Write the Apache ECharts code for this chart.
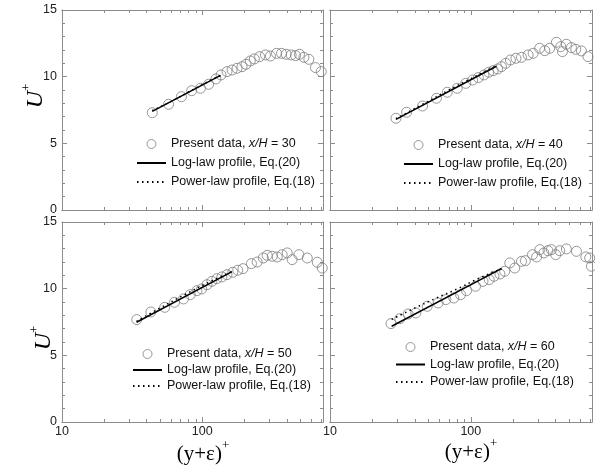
<!DOCTYPE html>
<html>
<head>
<meta charset="utf-8">
<script src="https://cdn.jsdelivr.net/npm/echarts@6/dist/echarts.min.js"></script>
<style>
  html, body { margin: 0; background: #fff; }
  #box { width: 595px; height: 470px; }
</style>
</head>
<body>
<div id="box"></div>
<script>
// x/H stations of the four panels
const stations = ['30', '40', '50', '60'];

// measured profiles [(y+eps)+, U+]
const present30 = [[44, 7.3], [57.5, 7.93], [71, 8.5], [84, 8.95], [97, 9.13], [111, 9.43], [125, 9.83], [136, 10.13], [150, 10.38], [163, 10.5], [177, 10.63], [192, 10.75], [205, 10.93], [220, 11.18], [235, 11.33], [256, 11.5], [282, 11.63], [306, 11.55], [338, 11.75], [367, 11.75], [396, 11.68], [430, 11.63], [462, 11.58], [493, 11.68], [530, 11.45], [575, 11.3], [641, 10.68], [704, 10.38]];
const present40 = [[29.4, 6.88], [35, 7.33], [45.4, 7.8], [57, 8.38], [68, 8.83], [80, 9.13], [92, 9.5], [103, 9.75], [113, 9.93], [124, 10.13], [134, 10.33], [144, 10.45], [155, 10.58], [165, 10.75], [177, 11.0], [191, 11.25], [209, 11.38], [229, 11.45], [255, 11.63], [277, 11.75], [308, 12.13], [335, 11.95], [363, 12.13], [405, 12.58], [435, 12.25], [447, 11.88], [477, 12.43], [518, 12.18], [556, 12.05], [610, 11.93], [679, 11.5]];
const present50 = [[34.1, 7.68], [43, 8.25], [54, 8.6], [63.4, 8.98], [73.5, 9.23], [82, 9.55], [91.6, 9.85], [99, 9.98], [108, 10.3], [117, 10.55], [127, 10.75], [138, 10.88], [150, 11.05], [165, 11.23], [179, 11.38], [195, 11.5], [224, 11.88], [246, 12.0], [272, 12.3], [290, 12.5], [315, 12.43], [342, 12.38], [371, 12.55], [403, 12.68], [437, 12.18], [488, 12.55], [560, 12.3], [660, 11.98], [716, 11.55]];
const present60 = [[27.1, 7.38], [31.3, 7.75], [35.9, 8.1], [40.7, 8.18], [49, 8.68], [58.6, 8.93], [66.5, 9.18], [75.7, 9.3], [84.5, 9.55], [93.2, 9.85], [108, 10.18], [122, 10.55], [135, 10.68], [146, 10.93], [161, 11.1], [174, 11.3], [189, 11.93], [205, 11.55], [229, 12.05], [244, 12.1], [274, 12.55], [293, 12.38], [309, 12.93], [330, 12.68], [353, 12.85], [373, 12.93], [401, 12.55], [428, 12.85], [477, 12.98], [562, 12.8], [655, 12.38], [698, 12.3], [718, 11.68]];

// log-law profile, Eq.(20)
const logLaw30 = [[44, 7.4], [135, 10.1]];
const logLaw40 = [[29.4, 6.8], [152, 10.78]];
const logLaw50 = [[34, 7.48], [163, 11.28]];
const logLaw60 = [[27.4, 7.18], [165, 11.5]];

// power-law profile, Eq.(18)
const powerLaw30 = [[44, 7.45], [60, 8.15], [80, 8.85], [100, 9.4], [135, 10.1]];
const powerLaw40 = [[29.4, 6.85], [45, 7.9], [70, 9.0], [100, 9.85], [152, 10.8]];
const powerLaw50 = [[34, 7.55], [50, 8.55], [75, 9.55], [110, 10.45], [163, 11.3]];
const powerLaw60 = [[27.4, 7.7], [38, 8.43], [57, 9.3], [80, 9.98], [110, 10.7], [165, 11.5]];

const xMajorTicks = [10, 100];
const xMinorTicks = [20, 30, 40, 50, 60, 70, 80, 90, 200, 300, 400, 500, 600, 700];

const presentData = [present30, present40, present50, present60];
const logData = [logLaw30, logLaw40, logLaw50, logLaw60];
const powerData = [powerLaw30, powerLaw40, powerLaw50, powerLaw60];

const LOG_NAME = 'Log-law profile, Eq.(20)';
const POW_NAME = 'Power-law profile, Eq.(18)';
const frame = '#8c8c8c';
const sans = '"Liberation Sans", Arial, sans-serif';
const serif = '"Liberation Serif", "Times New Roman", serif';

const grids = [
  {left: 62, top: 10, width: 261, height: 200},
  {left: 330, top: 10, width: 262, height: 200},
  {left: 62, top: 222, width: 261, height: 200},
  {left: 330, top: 222, width: 262, height: 200}
];
// legend placement per panel
const legendPos = [
  {left: 136, top: 137, itemGap: 5},
  {left: 403, top: 138, itemGap: 5},
  {left: 132, top: 347, itemGap: 2},
  {left: 395, top: 340, itemGap: 3.5}
];

const box = document.getElementById('box');
const chart = echarts.init(box);

let xAxes = [], yAxes = [], series = [], legends = [];
const noMarker = {color: 'transparent', borderColor: 'transparent', borderWidth: 0};

grids.forEach(function (g, i) {
  const showX = i >= 2, showY = i % 2 === 0;
  // bottom/top x axes, major and minor ticks on separate axes
  [['bottom', xMajorTicks, 5, showX], ['bottom', xMinorTicks, 3, false],
   ['top', xMajorTicks, 5, false], ['top', xMinorTicks, 3, false]].forEach(function (a) {
    xAxes.push({
      type: 'log', logBase: 10, gridIndex: i, position: a[0], min: 10, max: 725,
      axisLine: {show: true, onZero: false, lineStyle: {color: frame, width: 1}},
      axisTick: {inside: true, length: a[2], customValues: a[1], lineStyle: {color: frame}},
      axisLabel: a[3] ? {customValues: xMajorTicks, color: '#222', fontSize: 12.5, fontFamily: sans, margin: 3}
                      : {show: false},
      splitLine: {show: false}
    });
  });
  ['left', 'right'].forEach(function (p) {
    yAxes.push({
      type: 'value', gridIndex: i, position: p, min: 0, max: 15, interval: 5,
      axisLine: {show: true, onZero: false, lineStyle: {color: frame, width: 1}},
      axisTick: {inside: true, length: 5, lineStyle: {color: frame}},
      minorTick: {show: true, splitNumber: 5, length: 3, lineStyle: {color: frame}},
      axisLabel: (p === 'left' && showY) ? {color: '#222', fontSize: 12.5, fontFamily: sans, margin: 5}
                                         : {show: false},
      splitLine: {show: false}
    });
  });

  const presentName = 'Present data, x/H = ' + stations[i];
  series.push({
    name: presentName, type: 'scatter', xAxisIndex: i * 4, yAxisIndex: i * 2,
    data: presentData[i], symbol: 'circle', symbolSize: 10,
    itemStyle: {color: 'transparent', borderColor: '#7d7d7d', borderWidth: 1}
  });
  series.push({
    name: LOG_NAME, type: 'line', xAxisIndex: i * 4, yAxisIndex: i * 2,
    data: logData[i], symbol: 'none', itemStyle: noMarker,
    lineStyle: {color: '#000', width: 1.5, type: 'solid'}
  });
  series.push({
    name: POW_NAME, type: 'line', xAxisIndex: i * 4, yAxisIndex: i * 2, smooth: true,
    data: powerData[i], symbol: 'none', itemStyle: noMarker,
    lineStyle: {color: '#000', width: 1.5, type: [1.5, 3.5]}
  });

  legends.push({
    orient: 'vertical', left: legendPos[i].left, top: legendPos[i].top,
    itemGap: legendPos[i].itemGap, itemWidth: 29, itemHeight: 9,
    selectedMode: false, padding: 0,
    data: [
      {name: presentName, icon: 'circle', itemStyle: {color: 'transparent', borderColor: '#7d7d7d', borderWidth: 1}},
      {name: LOG_NAME, itemStyle: noMarker},
      {name: POW_NAME, itemStyle: noMarker}
    ],
    formatter: function (name) { return name.replace('x/H', '{i|x/H}'); },
    textStyle: {
      color: '#111', fontSize: 12.5, fontFamily: sans, lineHeight: 14,
      rich: {i: {fontStyle: 'italic', fontSize: 12.5, fontFamily: sans, color: '#111', lineHeight: 14}}
    }
  });
});

const titleRich = {
  b: {fontFamily: serif, fontSize: 21, lineHeight: 26, verticalAlign: 'bottom', color: '#111'},
  bi: {fontFamily: serif, fontStyle: 'italic', fontSize: 24, lineHeight: 28, verticalAlign: 'bottom', color: '#111'},
  s: {fontFamily: serif, fontSize: 13, lineHeight: 13, verticalAlign: 'top', color: '#111'}
};

function title(x, y, text, rot) {
  return {
    type: 'text', x: x, y: y, rotation: rot,
    style: {text: text, rich: titleRich, align: 'center', verticalAlign: 'middle'}
  };
}

chart.setOption({
  animation: false,
  grid: grids,
  xAxis: xAxes,
  yAxis: yAxes,
  legend: legends,
  series: series,
  graphic: [
    title(34, 96, '{bi|U}{s|+}', Math.PI / 2),
    title(42, 338, '{bi|U}{s|+}', Math.PI / 2),
    title(203, 452, '{b|(y+ε)}{s|+}', 0),
    title(471, 450, '{b|(y+ε)}{s|+}', 0)
  ]
});

window.addEventListener('resize', function () {
  chart.resize();
});
</script>
</body>
</html>
